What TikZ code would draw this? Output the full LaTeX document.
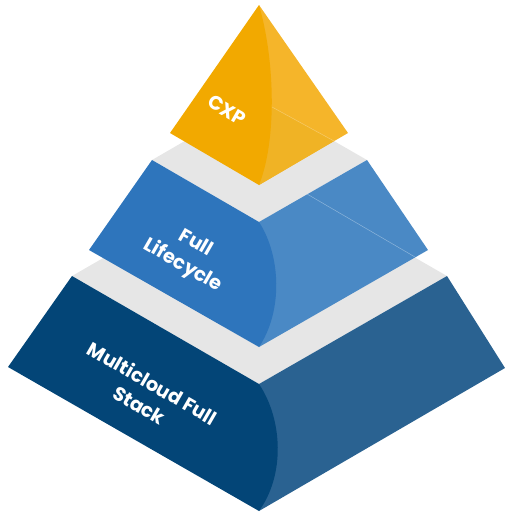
\documentclass[tikz,border=0pt]{standalone}
\usepackage{fontspec}
\setmainfont{Poppins}
\usepackage{tikz}

\definecolor{platform}{HTML}{E6E6E6}
\definecolor{cxpleft}{HTML}{F2A900}
\definecolor{cxpright}{HTML}{F5B52A}
\definecolor{cxplow}{HTML}{F0B325}
\definecolor{flleft}{HTML}{2E75BC}
\definecolor{flright}{HTML}{4A89C5}
\definecolor{mcleft}{HTML}{034577}
\definecolor{mcright}{HTML}{2A6291}

\begin{document}
\begin{tikzpicture}[x=0.2mm, y=-0.2mm,
    tierlabel/.style={text=white, font=\bfseries\fontsize{11}{14.5}\selectfont, align=center, rotate=-30, inner sep=0pt},
    seam/.style={line width=0.3pt, opacity=0.5}]
    \useasboundingbox (0,0) rectangle (505,514);

    % bottom tier: Multicloud Full Stack
    \fill [platform] (72,276) -- (259,168) -- (447,276) -- (259,384) -- cycle;
    \fill [mcright] (259,384) -- (447,276) -- (505,368) -- (259,511) -- cycle;
    \fill [mcleft] (72,276) -- (259,384) .. controls (283,420) and (285,475) .. (259,511) -- (8,367) -- cycle;

    % middle tier: Full Lifecycle
    \fill [platform] (152,160) -- (259,98) -- (367,160) -- (259,222) -- cycle;
    \fill [flright] (259,222) -- (367,160) -- (428,250) -- (259,347) -- cycle;
    \draw [seam, white!70!flright] (307,194) -- (415,257);
    \fill [flleft] (152,160) -- (259,222) .. controls (281,256) and (283,311) .. (259,347) -- (89,250) -- cycle;

    % top: CXP
    \fill [cxpright] (259,5) -- (348,133) -- (259,185) -- cycle;
    \fill [cxplow] (272,107) -- (334,141) -- (259,185) -- cycle;
    \draw [seam, white!60!cxpright] (272,107) -- (334,141);
    \fill [cxpleft] (259,5) .. controls (275,60) and (277,140) .. (259,185) -- (170,133) -- cycle;

    \node (cxp) at (227,110) [tierlabel] {CXP};
    \node (lifecycle) at (189,255) [tierlabel] {Full\\Lifecycle};
    \node (multicloud) at (146,394) [tierlabel] {Multicloud Full\\Stack};
\end{tikzpicture}
\end{document}
